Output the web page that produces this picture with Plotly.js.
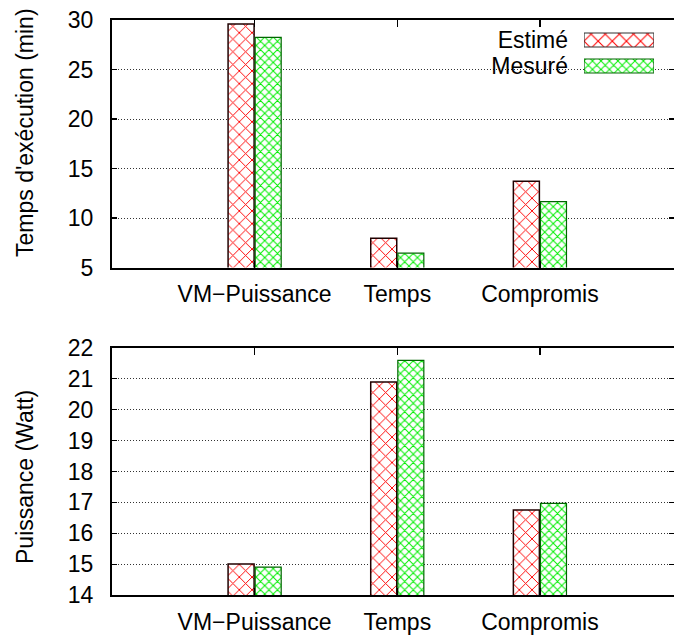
<!DOCTYPE html>
<html><head><meta charset="utf-8">
<script src="https://cdn.plot.ly/plotly-3.0.1.min.js"></script>
<style>html,body{margin:0;padding:0;background:#fff}</style>
</head><body>
<div id="chart" style="width:674px;height:637px"></div>
<script>
const categories = ['VM\u2212Puissance', 'Temps', 'Compromis'];
const seriesNames = ['Estimé', 'Mesuré'];
const tempsEstime = [29.6, 7.95, 13.7];
const tempsMesure = [28.25, 6.45, 11.65];
const puissEstime = [15.0, 20.9, 16.75];
const puissMesure = [14.9, 21.6, 16.97];
const tempsTicks = [5, 10, 15, 20, 25, 30];
const puissTicks = [14, 15, 16, 17, 18, 19, 20, 21, 22];

const FONT = 'Liberation Sans, Arial, sans-serif';
const W = 674, H = 637, L = 112, R = 0, T = 20, B = 42;
const pw = W - L - R, ph = H - T - B;
const px = x => (x - L) / pw;
const py = y => (H - B - y) / ph;

const redPat = {shape: 'x', fgcolor: '#ff0000', bgcolor: '#ffffff', size: 9, solidity: 0.2, fillmode: 'replace'};
const greenPat = {shape: 'x', fgcolor: '#00ee00', bgcolor: '#ffffff', size: 6, solidity: 0.3, fillmode: 'replace'};
const redLine = {color: '#200000', width: 1.5};
const greenLine = {color: '#006600', width: 1.2};

function barTrace(x, y, name, pat, line, xa, ya) {
  return {type: 'bar', x: x, y: y, name: name, xaxis: xa, yaxis: ya,
    marker: {color: '#ffffff', pattern: pat, line: line}, showlegend: false, hoverinfo: 'skip'};
}

const traces = [
  barTrace(categories, tempsEstime, seriesNames[0], redPat, redLine, 'x', 'y'),
  barTrace(categories, tempsMesure, seriesNames[1], greenPat, greenLine, 'x', 'y'),
  barTrace(categories, puissEstime, seriesNames[0], redPat, redLine, 'x2', 'y2'),
  barTrace(categories, puissMesure, seriesNames[1], greenPat, greenLine, 'x2', 'y2'),
  // legend swatches
  {type: 'bar', orientation: 'h', x: [1], y: [0], xaxis: 'x3', yaxis: 'y3', width: 0.54, offset: -0.27,
   marker: {color: '#ffffff', pattern: Object.assign({}, redPat, {size: 10}), line: {color: '#333', width: 1.2}}, showlegend: false, hoverinfo: 'skip'},
  {type: 'bar', orientation: 'h', x: [1], y: [1], xaxis: 'x3', yaxis: 'y3', width: 0.54, offset: -0.27,
   marker: {color: '#ffffff', pattern: greenPat, line: greenLine}, showlegend: false, hoverinfo: 'skip'}
];

const xCommon = {type: 'category', range: [-1, 2.94], showline: true, linecolor: '#000', linewidth: 2, mirror: 'ticks',
  ticks: 'inside', ticklen: 7, tickwidth: 1.5, tickcolor: '#000', showgrid: false, zeroline: false,
  tickfont: {family: FONT, size: 23, color: '#000'}, ticklabelstandoff: 5, fixedrange: true};
const yCommon = {showline: true, linecolor: '#000', linewidth: 2, mirror: 'ticks', ticks: 'inside', ticklen: 5,
  tickwidth: 1.2, tickcolor: '#000', showgrid: true, gridcolor: '#333', griddash: '1px,2px', gridwidth: 1, zeroline: false,
  tickfont: {family: FONT, size: 23, color: '#000'}, ticklabelstandoff: 12, fixedrange: true};

const layout = {
  width: W, height: H,
  margin: {l: L, r: R, t: T, b: B, pad: 0},
  paper_bgcolor: '#fff', plot_bgcolor: '#fff',
  barmode: 'group', bargap: 0.62, bargroupgap: 0.04,
  showlegend: false,
  font: {family: FONT, size: 23, color: '#000'},
  xaxis: Object.assign({}, xCommon, {domain: [0, 1], anchor: 'y'}),
  yaxis: Object.assign({}, yCommon, {domain: [py(267.5), 1], anchor: 'x', range: [5, 30], tickvals: tempsTicks}),
  xaxis2: Object.assign({}, xCommon, {domain: [0, 1], anchor: 'y2'}),
  yaxis2: Object.assign({}, yCommon, {domain: [0, py(348)], anchor: 'x2', range: [14, 22], tickvals: puissTicks}),
  xaxis3: {domain: [px(584), px(654)], anchor: 'y3', range: [0, 1], visible: false, fixedrange: true},
  yaxis3: {domain: [py(79), py(27)], anchor: 'x3', type: 'linear', range: [1.5, -0.5], showline: false, showgrid: false,
    zeroline: false, ticks: '', tickmode: 'array', tickvals: [0, 1], ticktext: seriesNames,
    tickfont: {family: FONT, size: 23, color: '#000'}, ticklabelstandoff: 15, fixedrange: true},
  shapes: [
    {type: 'rect', xref: 'paper', yref: 'paper', x0: px(481), x1: px(667), y0: py(79), y1: py(27),
     fillcolor: '#ffffff', line: {width: 0}, layer: 'between'}
  ],
  annotations: [
    {text: "Temps d'exécution (min)", xref: 'paper', yref: 'paper', x: px(25), y: py(133), textangle: -90,
     showarrow: false, xanchor: 'center', yanchor: 'middle', font: {family: FONT, size: 23, color: '#000'}},
    {text: 'Puissance (Watt)', xref: 'paper', yref: 'paper', x: px(25), y: py(477), textangle: -90,
     showarrow: false, xanchor: 'center', yanchor: 'middle', font: {family: FONT, size: 23, color: '#000'}}
  ]
};

Plotly.newPlot('chart', traces, layout, {displayModeBar: false, staticPlot: true});
</script>
</body></html>
